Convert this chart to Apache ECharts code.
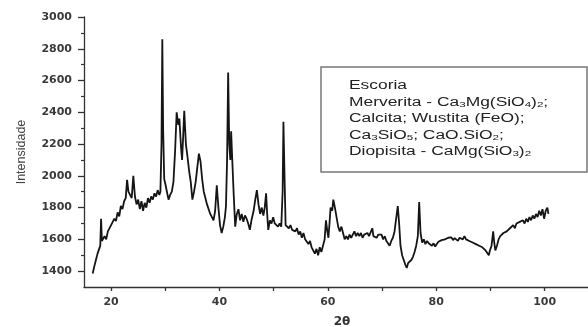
<!DOCTYPE html>
<html style="height: 100%;width:100%">
<head>
<meta charset="utf-8">
</head>
<body style="height: 100%; width:100%; margin:0; background:#fff">
<div id="chart-panel" style="width:588px;height:327px"></div>
<script type="text/javascript" src="https://cdn.jsdelivr.net/npm/echarts@6/dist/echarts.min.js"></script>
<script type="text/javascript">
// 2theta positions
var twoTheta = [
  16.6, 16.9, 17.2, 17.5, 17.8, 18.0, 18.15, 18.3, 18.5, 18.8, 19.1, 19.4, 19.7, 20.0, 20.3, 20.6, 20.9, 21.2, 21.5, 21.8,
  22.1, 22.4, 22.7, 22.95, 23.2, 23.5, 23.8, 24.1, 24.4, 24.7, 25.0, 25.3, 25.6, 25.9, 26.2, 26.5, 26.8, 27.1, 27.4, 27.7,
  28.0, 28.3, 28.6, 28.9, 29.1, 29.3, 29.45, 29.6, 29.8, 30.0, 30.3, 30.6, 30.9, 31.2, 31.5, 31.8, 32.1, 32.4, 32.6, 32.9,
  33.1, 33.3, 33.5, 33.8, 34.1, 34.4, 34.7, 35.0, 35.3, 35.6, 35.9, 36.2, 36.5, 36.8, 37.1, 37.4, 37.7, 38.0, 38.3, 38.6,
  38.9, 39.2, 39.5, 39.8, 40.1, 40.4, 40.7, 41.0, 41.2, 41.4, 41.6, 41.8, 42.0, 42.15, 42.3, 42.6, 42.9, 43.2, 43.5, 43.8,
  44.1, 44.4, 44.7, 45.0, 45.3, 45.6, 45.9, 46.3, 46.6, 46.9, 47.2, 47.5, 47.8, 48.1, 48.35, 48.6, 48.8, 49.0, 49.3, 49.6,
  49.9, 50.2, 50.5, 50.8, 51.1, 51.4, 51.65, 51.8, 52.0, 52.2, 52.5, 52.8, 53.1, 53.4, 53.7, 54.0, 54.3, 54.6, 54.9, 55.2,
  55.5, 55.8, 56.1, 56.4, 56.7, 57.0, 57.3, 57.6, 57.9, 58.2, 58.5, 58.8, 59.1, 59.4, 59.65, 59.9, 60.1, 60.3, 60.5, 60.8,
  61.0, 61.3, 61.6, 61.9, 62.2, 62.5, 62.8, 63.1, 63.4, 63.7, 64.0, 64.3, 64.6, 64.9, 65.2, 65.5, 65.8, 66.1, 66.4, 66.7,
  67.0, 67.3, 67.6, 67.9, 68.2, 68.4, 68.7, 69.0, 69.3, 69.6, 69.9, 70.2, 70.5, 70.8, 71.1, 71.4, 71.7, 72.0, 72.3, 72.6,
  72.9, 73.15, 73.4, 73.7, 74.0, 74.3, 74.55, 74.8, 75.1, 75.4, 75.7, 76.0, 76.3, 76.6, 76.85, 77.1, 77.4, 77.7, 78.0, 78.3,
  78.6, 78.9, 79.2, 79.5, 79.8, 80.1, 80.4, 80.7, 81.0, 81.3, 81.6, 81.9, 82.2, 82.5, 82.8, 83.1, 83.4, 83.7, 84.0, 84.3,
  84.6, 84.9, 85.2, 85.5, 85.8, 86.1, 86.4, 86.7, 87.0, 87.3, 87.6, 87.9, 88.2, 88.5, 88.8, 89.1, 89.4, 89.7, 89.9, 90.2,
  90.5, 90.7, 90.9, 91.2, 91.5, 91.8, 92.1, 92.4, 92.7, 93.0, 93.3, 93.6, 93.9, 94.2, 94.5, 94.8, 95.1, 95.4, 95.7, 96.0,
  96.3, 96.6, 96.9, 97.2, 97.5, 97.8, 98.1, 98.4, 98.7, 99.0, 99.3, 99.6, 99.9, 100.2, 100.5, 100.7
];
// intensity at each position
var intensity = [
  1385, 1430, 1470, 1510, 1540, 1560, 1730, 1590, 1580, 1620, 1600, 1650, 1640, 1690, 1680, 1730, 1715, 1770, 1745, 1810,
  1790, 1840, 1860, 1975, 1900, 1880, 1860, 2000, 1870, 1820, 1850, 1790, 1840, 1780, 1830, 1800, 1860, 1830, 1870, 1850,
  1890, 1870, 1910, 1880, 1900, 2200, 2860, 2300, 1980, 1950, 1900, 1850, 1880, 1900, 1960, 2150, 2400, 2320, 2360, 2180,
  2100, 2250, 2410, 2200, 2120, 2030, 1960, 1850, 1900, 1960, 2050, 2140, 2090, 1980, 1900, 1860, 1820, 1790, 1760, 1750,
  1720, 1780, 1940, 1800, 1690, 1640, 1680, 1740, 1810, 2100, 2650, 2200, 2100, 2280, 2150, 1900, 1680, 1760, 1790, 1720,
  1760, 1710, 1750, 1730, 1700, 1660, 1720, 1780, 1850, 1910, 1820, 1760, 1800, 1750, 1800, 1890, 1760, 1660, 1720, 1700,
  1740, 1700, 1710, 1680, 1700, 1680, 1900, 2340, 2000, 1690, 1700, 1670, 1690, 1660, 1670, 1650, 1670, 1630, 1650, 1610,
  1640, 1600, 1610, 1570, 1590, 1550, 1560, 1510, 1540, 1500, 1550, 1520, 1560, 1600, 1720, 1650, 1610, 1700, 1800, 1780,
  1850, 1800, 1740, 1680, 1650, 1680, 1640, 1600, 1620, 1600, 1630, 1610, 1630, 1650, 1620, 1640, 1620, 1640, 1610, 1630,
  1620, 1640, 1620, 1630, 1670, 1620, 1630, 1610, 1630, 1620, 1630, 1600, 1620, 1590, 1600, 1560, 1590, 1610, 1650, 1730,
  1810, 1700, 1560, 1500, 1470, 1440, 1420, 1450, 1440, 1470, 1490, 1520, 1560, 1620, 1835, 1640, 1580, 1600, 1570, 1590,
  1575, 1585, 1560, 1575, 1555, 1570, 1585, 1575, 1595, 1585, 1600, 1590, 1610, 1600, 1612, 1595, 1608, 1598, 1590, 1610,
  1620, 1600, 1620, 1600, 1610, 1590, 1600, 1580, 1590, 1570, 1580, 1560, 1570, 1550, 1560, 1530, 1540, 1500, 1530, 1560,
  1650, 1580, 1530, 1560, 1600, 1620, 1610, 1640, 1630, 1650, 1640, 1670, 1660, 1690, 1670, 1700, 1690, 1710, 1700, 1720,
  1700, 1730, 1710, 1740, 1720, 1750, 1730, 1760, 1740, 1780, 1750, 1790, 1730, 1780, 1800, 1760
];
var xTicks = [20, 30, 40, 50, 60, 70, 80, 90, 100];
var xLabels = [20, 40, 60, 80, 100];
var yLabels = [1400, 1600, 1800, 2000, 2200, 2400, 2600, 2800, 3000];
var yMinorTicks = [1500, 1700, 1900, 2100, 2300, 2500, 2700, 2900];
var legendLines = [
  'Escoria',
  'Merverita - Ca{s|3}Mg(SiO{s|4}){s|2};',
  'Calcita; Wustita (FeO);',
  'Ca{s|3}SiO{s|5}; CaO.SiO{s|2};',
  'Diopisita - CaMg(SiO{s|3}){s|2}'
];

var dom = document.getElementById('chart-panel');
var myChart = echarts.init(dom);

var seriesData = twoTheta.map(function (t, i) { return [t, intensity[i]]; });

var axisColor = '#333';
var labelFont = { color: '#3a3a3a', fontFamily: 'DejaVu Sans', fontSize: 11, fontWeight: 'bold' };

var legendTexts = legendLines.map(function (line, i) {
  return {
    type: 'text',
    x: 349,
    y: 86 + i * 16.5,
    scaleX: 1.45,
    z: 20,
    style: {
      text: line,
      fill: '#222',
      font: '12px "Liberation Sans", Arial, sans-serif',
      verticalAlign: 'middle',
      rich: {
        s: { fontSize: 8, fontFamily: 'Liberation Sans', fill: '#222', verticalAlign: 'bottom', lineHeight: 8 }
      }
    }
  };
});

var option = {
  animation: false,
  backgroundColor: '#fff',
  grid: { left: 84, right: 0, top: 17, bottom: 40, containLabel: false, outerBoundsMode: 'none' },
  xAxis: {
    type: 'value',
    min: 15,
    max: 108,
    name: '2θ',
    nameLocation: 'middle',
    nameGap: 29,
    nameTextStyle: { color: '#333', fontFamily: 'DejaVu Sans', fontSize: 12, fontWeight: 'bold', padding: [0, 0, 0, 12] },
    axisLine: { lineStyle: { color: axisColor, width: 1.3 } },
    axisTick: { show: true, length: 4, customValues: xTicks, lineStyle: { color: axisColor, width: 1.3 } },
    axisLabel: Object.assign({ margin: 10, customValues: xLabels }, labelFont),
    splitLine: { show: false }
  },
  yAxis: [{
    type: 'value',
    min: 1300,
    max: 3000,
    offset: 0,
    name: 'Intensidade',
    nameLocation: 'middle',
    nameRotate: 90,
    nameGap: 56,
    nameTextStyle: { color: '#444', fontFamily: 'Liberation Sans', fontSize: 12.5 },
    axisLine: { show: true, lineStyle: { color: axisColor, width: 1.3 } },
    axisTick: { show: true, length: 6, customValues: yLabels, lineStyle: { color: axisColor, width: 1.3 } },
    axisLabel: Object.assign({ margin: 12, customValues: yLabels, formatter: function (v) { return String(v); } }, labelFont),
    splitLine: { show: false }
  }, {
    type: 'value',
    min: 1300,
    max: 3000,
    position: 'left',
    offset: 0,
    axisLine: { show: false },
    axisTick: { show: true, length: 3, customValues: yMinorTicks, lineStyle: { color: axisColor, width: 1.2 } },
    axisLabel: { show: false },
    splitLine: { show: false }
  }],
  graphic: [{
    type: 'rect',
    z: 10,
    shape: { x: 321, y: 67, width: 266, height: 105 },
    style: { fill: '#fff', stroke: '#777', lineWidth: 1.5 }
  }].concat(legendTexts),
  series: [{
    type: 'line',
    data: seriesData,
    showSymbol: false,
    yAxisIndex: 0,
    lineStyle: { color: '#151515', width: 1.8 }
  }]
};

if (option && typeof option === 'object') {
  myChart.setOption(option);
}
</script>
</body>
</html>
